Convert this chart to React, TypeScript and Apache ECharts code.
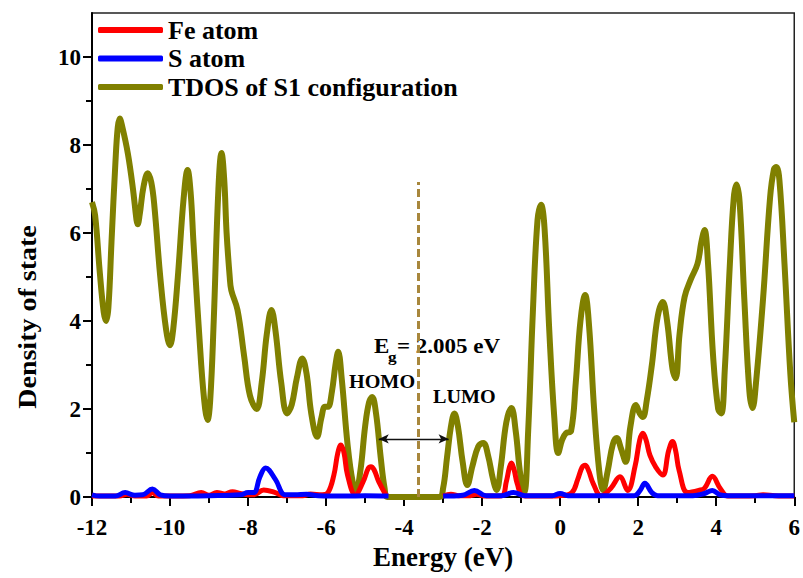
import React, { useEffect, useRef } from 'react';
import * as echarts from 'echarts';

const FONT = '"Liberation Serif", "Times New Roman", serif';

const seriesNames = ['Fe atom', 'S atom', 'TDOS of S1 configuration'];
const yMajorTicks = [0, 2, 4, 6, 8, 10];
const yMinorTicks = [1, 3, 5, 7, 9];

// TDOS of S1 configuration: [energy (eV), DOS]
const tdosData: [number, number][] = [
  [-12.0, 6.7], [-11.92, 6.4], [-11.8, 5.1], [-11.7, 4.2], [-11.64, 4.0], [-11.58, 4.3],
  [-11.5, 5.8], [-11.4, 7.6], [-11.34, 8.4], [-11.29, 8.6], [-11.22, 8.4], [-11.08, 7.8],
  [-10.95, 7.0], [-10.86, 6.3], [-10.83, 6.2], [-10.78, 6.4], [-10.68, 7.05], [-10.57, 7.36],
  [-10.48, 7.15], [-10.4, 6.6], [-10.25, 5.0], [-10.1, 3.8], [-10.0, 3.45], [-9.92, 3.8],
  [-9.8, 5.0], [-9.65, 6.8], [-9.55, 7.43], [-9.47, 6.9], [-9.4, 5.8], [-9.2, 3.0],
  [-9.1, 2.0], [-9.04, 1.75], [-8.97, 2.2], [-8.88, 4.0], [-8.76, 7.0], [-8.68, 7.82],
  [-8.61, 7.2], [-8.55, 6.0], [-8.47, 5.0], [-8.43, 4.7], [-8.27, 4.25], [-8.1, 3.2],
  [-7.95, 2.3], [-7.78, 2.0], [-7.65, 2.6], [-7.52, 3.7], [-7.4, 4.25], [-7.3, 3.8],
  [-7.15, 2.6], [-7.0, 1.9], [-6.88, 2.1], [-6.75, 2.7], [-6.61, 3.15], [-6.5, 2.8],
  [-6.38, 1.9], [-6.23, 1.37], [-6.12, 1.8], [-6.03, 2.05], [-5.95, 2.05], [-5.85, 2.4],
  [-5.76, 3.0], [-5.69, 3.3], [-5.6, 2.7], [-5.45, 1.2], [-5.32, 0.35], [-5.23, 0.16],
  [-5.12, 0.6], [-5.0, 1.6], [-4.9, 2.15], [-4.82, 2.27], [-4.72, 1.9], [-4.6, 0.9],
  [-4.5, 0.2], [-4.42, 0], [-3.1, 0], [-3.0, 0.2], [-2.9, 0.9], [-2.8, 1.6],
  [-2.71, 1.9], [-2.62, 1.6], [-2.5, 0.8], [-2.38, 0.27], [-2.25, 0.7], [-2.1, 1.15],
  [-1.97, 1.23], [-1.85, 0.95], [-1.72, 0.4], [-1.63, 0.16], [-1.52, 0.7], [-1.38, 1.7],
  [-1.25, 2.02], [-1.14, 1.5], [-1.02, 0.5], [-0.92, 0.11], [-0.82, 1.5], [-0.7, 4.2],
  [-0.58, 6.3], [-0.49, 6.64], [-0.4, 6.1], [-0.28, 3.8], [-0.15, 1.8], [-0.05, 1.0],
  [0.05, 1.3], [0.15, 1.45], [0.28, 1.5], [0.4, 2.6], [0.52, 4.0], [0.64, 4.59],
  [0.74, 3.9], [0.87, 2.0], [1.0, 0.6], [1.1, 0.16], [1.22, 0.6], [1.35, 1.2],
  [1.45, 1.34], [1.56, 1.1], [1.68, 0.8], [1.8, 1.6], [1.94, 2.09], [2.04, 1.9],
  [2.12, 1.82], [2.22, 2.2], [2.35, 3.0], [2.5, 4.1], [2.63, 4.43], [2.74, 4.0],
  [2.88, 2.9], [2.96, 2.7], [3.06, 3.7], [3.19, 4.55], [3.35, 4.95], [3.52, 5.3],
  [3.62, 5.8], [3.7, 6.07], [3.79, 5.3], [3.92, 3.2], [4.05, 2.0], [4.13, 1.9],
  [4.22, 2.9], [4.35, 5.3], [4.45, 6.8], [4.52, 7.1], [4.6, 6.7], [4.72, 4.5],
  [4.85, 2.4], [4.93, 2.02], [5.02, 2.6], [5.2, 4.5], [5.38, 6.8], [5.48, 7.45],
  [5.54, 7.5], [5.62, 7.2], [5.75, 5.3], [5.9, 2.8], [6.0, 1.7],
];

// Fe atom PDOS
const feData: (number | string)[][] = [
  [-12, 0.02], [-11.3, 0.02], [-11.1, 0.06], [-10.9, 0.02], [-10.6, 0.02], [-10.45, 0.1],
  [-10.3, 0.02], [-9.5, 0.03], [-9.2, 0.1], [-9.0, 0.04], [-8.8, 0.1], [-8.6, 0.07],
  [-8.4, 0.12], [-8.2, 0.08], [-8.0, 0.05], [-7.85, 0.05], [-7.6, 0.16], [-7.3, 0.1],
  [-7.1, 0.03], [-6.6, 0.03], [-6.4, 0.07], [-6.1, 0.05], [-5.95, 0.1], [-5.8, 0.5],
  [-5.7, 1.0], [-5.62, 1.18], [-5.54, 1.0], [-5.45, 0.5], [-5.25, 0.05], [-5.05, 0.35],
  [-4.92, 0.65], [-4.85, 0.69], [-4.77, 0.62], [-4.65, 0.35], [-4.45, 0.02], [-3.7, '-'],
  [-3.0, 0.02], [-2.8, 0.06], [-2.6, 0.03], [-2.3, 0.03], [-2.15, 0.06], [-1.9, 0.02],
  [-1.5, 0.03], [-1.38, 0.35], [-1.3, 0.68], [-1.25, 0.77], [-1.18, 0.62], [-1.1, 0.3],
  [-0.95, 0.03], [-0.6, 0.02], [0.0, 0.03], [0.3, 0.1], [0.45, 0.4], [0.56, 0.67],
  [0.64, 0.72], [0.72, 0.62], [0.85, 0.3], [1.05, 0.03], [1.3, 0.2], [1.53, 0.46],
  [1.73, 0.15], [1.92, 0.7], [2.04, 1.3], [2.12, 1.45], [2.2, 1.3], [2.3, 0.95],
  [2.45, 0.68], [2.63, 0.5], [2.78, 1.05], [2.88, 1.26], [2.96, 1.05], [3.05, 0.6],
  [3.27, 0.1], [3.55, 0.15], [3.7, 0.2], [3.9, 0.47], [4.1, 0.2], [4.3, 0.02],
  [5.0, 0.03], [5.2, 0.05], [5.5, 0.03], [6.0, 0.02],
];

// S atom PDOS
const sData: (number | string)[][] = [
  [-12, 0.05], [-11.8, 0.02], [-11.4, 0.02], [-11.15, 0.1], [-10.9, 0.04], [-10.7, 0.05],
  [-10.45, 0.18], [-10.25, 0.05], [-10.0, 0.02], [-9.0, 0.03], [-8.2, 0.05], [-8.0, 0.1],
  [-7.85, 0.1], [-7.7, 0.45], [-7.55, 0.66], [-7.3, 0.4], [-7.05, 0.05], [-6.8, 0.05],
  [-6.5, 0.06], [-6.2, 0.03], [-5.5, 0.02], [-5.0, 0.03], [-4.4, 0.02], [-3.7, '-'],
  [-3.0, 0.02], [-2.5, 0.04], [-2.2, 0.15], [-1.9, 0.03], [-1.5, 0.03], [-1.2, 0.1],
  [-0.9, 0.03], [-0.2, 0.03], [0.0, 0.08], [0.2, 0.03], [1.9, 0.03], [2.05, 0.15],
  [2.17, 0.31], [2.35, 0.1], [2.5, 0.03], [3.4, 0.03], [3.7, 0.08], [3.9, 0.15],
  [4.1, 0.05], [4.3, 0.03], [6.0, 0.03],
];

// annotations (data coordinates)
const fermiLineX = -3.63;
const fermiLineTop = 7.16;
const gapArrow = { from: -4.65, to: -2.86, y: 1.32 };

export default function App() {
  const ref = useRef<HTMLDivElement>(null);
  useEffect(() => {
    document.body.style.margin = '0';
    const chart = echarts.init(ref.current!, null, { renderer: 'svg' });
    const bold = { fontFamily: FONT, fontWeight: 'bold' as const, color: '#000' };
    chart.setOption({
      animation: false,
      backgroundColor: '#fff',
      grid: { left: 92, right: 6, top: 13, bottom: 81, show: true, borderColor: '#222', borderWidth: 1.5 },
      legend: {
        orient: 'vertical',
        left: 98,
        top: 17,
        padding: 0,
        itemWidth: 65,
        itemHeight: 6,
        itemGap: 2.5,
        icon: 'roundRect',
        data: seriesNames,
        textStyle: { ...bold, fontSize: 26, lineHeight: 26 },
      },
      xAxis: {
        type: 'value',
        min: -12,
        max: 6,
        interval: 2,
        name: 'Energy (eV)',
        nameLocation: 'middle',
        nameGap: 31,
        nameTextStyle: { ...bold, fontSize: 27 },
        axisLine: { onZero: false, lineStyle: { color: '#000', width: 2 } },
        axisTick: { inside: false, length: 9, lineStyle: { color: '#000', width: 2 } },
        minorTick: { show: true, splitNumber: 2, length: 6, lineStyle: { color: '#000', width: 2 } },
        axisLabel: { ...bold, fontSize: 23, margin: 19 },
        splitLine: { show: false },
      },
      yAxis: [
        {
          type: 'value',
          min: 0,
          max: 11,
          interval: 2,
          position: 'left',
          axisLine: { show: true, onZero: false, lineStyle: { color: '#000', width: 2 } },
          axisTick: { show: true, length: 9, customValues: yMajorTicks, lineStyle: { color: '#000', width: 2 } },
          axisLabel: { ...bold, fontSize: 23, margin: 11, customValues: yMajorTicks },
          splitLine: { show: false },
        },
        {
          type: 'value',
          min: 0,
          max: 11,
          interval: 1,
          position: 'left',
          offset: 0,
          axisLine: { show: false, onZero: false },
          axisTick: { show: true, length: 6, customValues: yMinorTicks, lineStyle: { color: '#000', width: 2 } },
          axisLabel: { show: false },
          splitLine: { show: false },
        },
      ],
      series: [
        {
          name: seriesNames[2],
          type: 'line',
          data: tdosData,
          smooth: 0.4,
          showSymbol: false,
          z: 2,
          lineStyle: { color: '#808000', width: 6 },
          itemStyle: { color: '#808000' },
          markLine: {
            silent: true,
            symbol: ['none', 'none'],
            label: { show: false },
            data: [
              [
                { coord: [fermiLineX, 0], lineStyle: { color: '#a8873c', width: 3, type: [8, 4] } },
                { coord: [fermiLineX, fermiLineTop] },
              ],
              [
                { coord: [gapArrow.from, gapArrow.y], symbol: 'arrow', symbolSize: [7, 10], lineStyle: { color: '#111', width: 1.3, type: 'solid' } },
                { coord: [gapArrow.to, gapArrow.y], symbol: 'arrow', symbolSize: [7, 10] },
              ],
            ],
          },
        },
        {
          name: seriesNames[0],
          type: 'line',
          data: feData,
          smooth: 0.4,
          showSymbol: false,
          z: 3,
          lineStyle: { color: '#ff0000', width: 5 },
          itemStyle: { color: '#ff0000' },
        },
        {
          name: seriesNames[1],
          type: 'line',
          data: sData,
          smooth: 0.4,
          showSymbol: false,
          z: 4,
          lineStyle: { color: '#0000ff', width: 5 },
          itemStyle: { color: '#0000ff' },
        },
      ],
      graphic: [
        {
          type: 'text', x: 28, y: 317, rotation: Math.PI / 2, scaleX: 1.12,
          style: { text: 'Density of state', ...bold, fill: '#000', fontSize: 25, align: 'center', verticalAlign: 'middle' },
        },
        {
          type: 'text', x: 374, y: 347, scaleX: 1.15,
          style: { text: 'E', ...bold, fill: '#000', fontSize: 20, align: 'left', verticalAlign: 'middle' },
        },
        {
          type: 'text', x: 388, y: 357, scaleX: 1.15,
          style: { text: 'g', ...bold, fill: '#000', fontSize: 15, align: 'left', verticalAlign: 'middle' },
        },
        {
          type: 'text', x: 397, y: 347, scaleX: 1.15,
          style: { text: '= 2.005 eV', ...bold, fill: '#000', fontSize: 20, align: 'left', verticalAlign: 'middle' },
        },
        {
          type: 'text', x: 349, y: 382, scaleX: 1.12,
          style: { text: 'HOMO', ...bold, fill: '#000', fontSize: 18, align: 'left', verticalAlign: 'middle' },
        },
        {
          type: 'text', x: 433, y: 397, scaleX: 1.12,
          style: { text: 'LUMO', ...bold, fill: '#000', fontSize: 18, align: 'left', verticalAlign: 'middle' },
        },
      ],
    });
    return () => chart.dispose();
  }, []);
  return <div ref={ref} style={{ position: 'fixed', left: 0, top: 0, width: 803, height: 578, background: '#fff' }} />;
}
